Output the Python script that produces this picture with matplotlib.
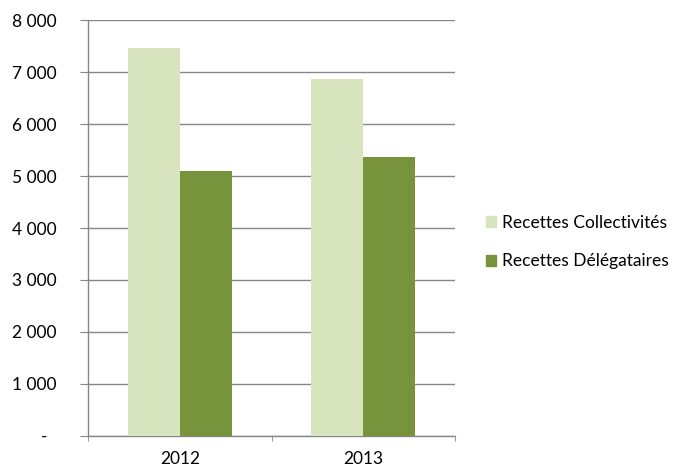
import matplotlib
matplotlib.use("Agg")
import matplotlib.pyplot as plt
import numpy as np
from matplotlib.patches import Patch

years = ["2012", "2013"]
collectivites = [7470, 6865]
delegataires = [5095, 5360]
series_names = ["Recettes Collectivités", "Recettes Délégataires"]
yticks = [0, 1000, 2000, 3000, 4000, 5000, 6000, 7000, 8000]
ytick_labels = ["-  ", "1 000", "2 000", "3 000", "4 000", "5 000", "6 000", "7 000", "8 000"]

light = "#D7E4BD"
dark = "#77933C"
grid_c = "#878787"

plt.rcParams['font.family'] = ['Lato', 'DejaVu Sans']
fs = 12.5

fig = plt.figure(figsize=(6.73, 4.68), dpi=100)
ax = fig.add_axes([88/673, (468-436)/468, (455-88)/673, (436-20)/468])

x = np.arange(len(years))
w = 52/184
ax.bar(x - w/2, collectivites, width=w, color=light, zorder=3)
ax.bar(x + w/2, delegataires, width=w, color=dark, zorder=3)

ax.set_xlim(-0.5, 1.5)
ax.set_ylim(0, 8000)
ax.set_yticks(yticks)
ax.set_yticklabels(ytick_labels, fontsize=fs, color="#000000")
ax.yaxis.grid(True, color=grid_c, linewidth=1, zorder=0)
ax.set_axisbelow(True)

ax.set_xticks(x)
ax.set_xticklabels(years, fontsize=fs)
ax.set_xticks([-0.5, 0.5, 1.5], minor=True)
ax.tick_params(axis='x', which='major', length=0, pad=11)
ax.tick_params(axis='x', which='minor', length=3.6, color=grid_c, direction='out')
ax.tick_params(axis='y', length=5.5, color=grid_c, direction='out', pad=17)

for s in ["top", "right"]:
    ax.spines[s].set_visible(False)
for s in ["left", "bottom"]:
    ax.spines[s].set_color(grid_c)
    ax.spines[s].set_linewidth(1)

handles = [Patch(color=light), Patch(color=dark)]
fig.legend(handles, series_names, loc="center left", bbox_to_anchor=(486/673, 1 - 242/468),
           frameon=False, fontsize=fs, handlelength=0.6, handleheight=0.6,
           handletextpad=0.3, labelspacing=1.3, borderpad=0, borderaxespad=0)

fig.savefig("out.png", dpi=100)
